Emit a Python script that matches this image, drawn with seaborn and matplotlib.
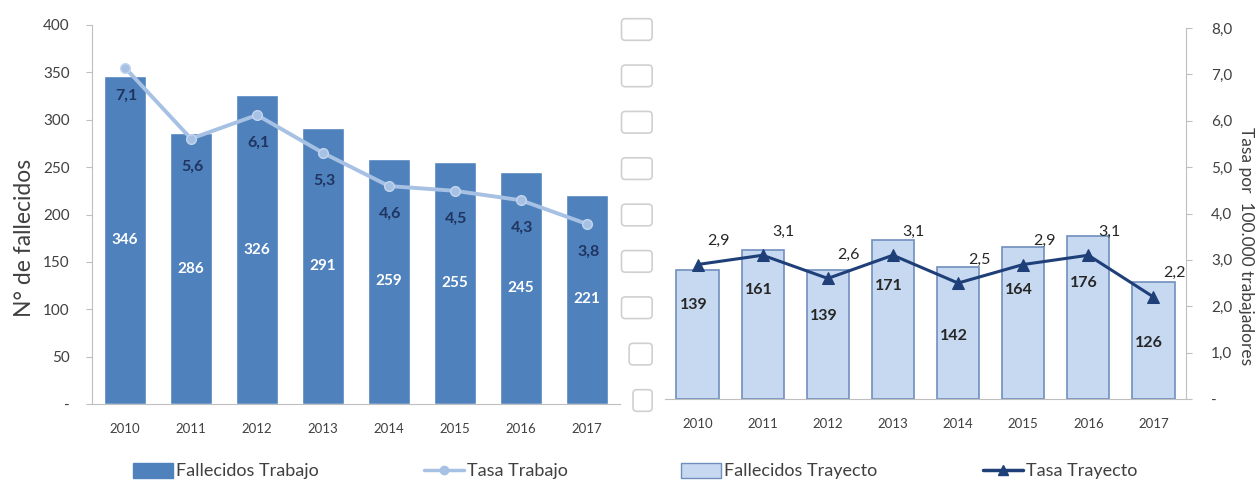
import numpy as np
import matplotlib
matplotlib.use("Agg")
import matplotlib.pyplot as plt
import seaborn as sns
from matplotlib.lines import Line2D
from matplotlib.patches import Patch

# data
years = ["2010", "2011", "2012", "2013", "2014", "2015", "2016", "2017"]
fall_trabajo = [346, 286, 326, 291, 259, 255, 245, 221]
tasa_trabajo = [7.1, 5.6, 6.1, 5.3, 4.6, 4.5, 4.3, 3.8]
fall_trayecto = [139, 161, 139, 171, 142, 164, 176, 126]
tasa_trayecto = [2.9, 3.1, 2.6, 3.1, 2.5, 2.9, 3.1, 2.2]

left_ticks = [0, 50, 100, 150, 200, 250, 300, 350, 400]
left_ticklabels = ["-", "50", "100", "150", "200", "250", "300", "350", "400"]
right_ticks = [0, 1, 2, 3, 4, 5, 6, 7, 8]
right_ticklabels = ["-", "1,0", "2,0", "3,0", "4,0", "5,0", "6,0", "7,0", "8,0"]

# vertical shift (points) of the count labels in the right chart
tray_lbl_dy = [21, 25, 13, 24, -2, 24, 25, -2]

c_dark = "#4f81bd"
c_light = "#a7c1e4"
c_tray = "#c6d9f1"
c_tray_edge = "#6f8fbd"
c_navy = "#1f3f78"
c_grey = "#bfbfbf"
c_text = "#404040"

sns.set_style("white")
plt.rcParams["font.family"] = ["Lato", "DejaVu Sans"]

W, H = 1257, 482
fig = plt.figure(figsize=(W / 100, H / 100), dpi=100)
ax1 = fig.add_axes([92 / W, 1 - 404 / H, 528 / W, 379 / H])
ax3 = fig.add_axes([665 / W, 1 - 399 / H, 521 / W, 371 / H])
xs = np.arange(len(years))

#left chart: trabajo
sns.barplot(x=years, y=fall_trabajo, color=c_dark, width=0.65, saturation=1, ax=ax1)
ax1.set_xlim(-0.5, 7.5)
ax1.set_ylim(0, 400)
ax1.bar_label(ax1.containers[0], label_type="center", color="white",
              fontweight="bold", fontsize=11)
ax1.set_yticks(left_ticks, left_ticklabels)
ax1.set_ylabel("")
ax1.set_xlabel("")

ax2 = ax1.twinx()
sns.lineplot(x=xs, y=tasa_trabajo, ax=ax2, color=c_light, linewidth=2.8,
             marker="o", markersize=7, markeredgecolor="#c3d6ef", markeredgewidth=1)
ax2.set_ylim(0, 8)
ax2.set_axis_off()
for i, v in enumerate(tasa_trabajo):
    ax2.annotate(f"{v:.1f}".replace(".", ","), (i, v), xytext=(1, -20),
                 textcoords="offset points", ha="center", va="center",
                 fontsize=11.5, fontweight="bold", color="#1f3460")

#right chart: trayecto
sns.barplot(x=years, y=fall_trayecto, color=c_tray, width=0.65, saturation=1,
            edgecolor=c_tray_edge, linewidth=1.2, ax=ax3)
ax3.set_xlim(-0.5, 7.5)
ax3.set_ylim(0, 400)
ax3.set_ylabel("")
ax3.set_xlabel("")
for i, (v, dy) in enumerate(zip(fall_trayecto, tray_lbl_dy)):
    ax3.annotate(str(v), (i, v / 2), xytext=(-3, dy), textcoords="offset points",
                 ha="center", va="center", fontsize=11.5, fontweight="bold", color="#262626")

# empty boxes left of the right chart (broken tick labels in the original)
box_txt = ["\u2003", "\u2003\u2005"] + ["\u2003\u2003"] * 7
ax3.set_yticks(left_ticks, box_txt)
for t in ax3.get_yticklabels():
    t.set_fontsize(11)
    t.set_bbox(dict(boxstyle="round,pad=0.25", fc="white", ec="#d0d0d0", lw=1.2))
ax3.tick_params(axis="y", length=0, pad=12)

ax4 = ax3.twinx()
sns.lineplot(x=xs, y=tasa_trayecto, ax=ax4, color=c_navy, linewidth=2.2,
             marker="^", markersize=9, markeredgecolor=c_navy)
ax4.set_ylim(0, 8)
ax4.set_yticks(right_ticks, right_ticklabels)
for i, v in enumerate(tasa_trayecto):
    ax4.annotate(f"{v:.1f}".replace(".", ","), (i, v), xytext=(15, 17),
                 textcoords="offset points", ha="center", va="center",
                 fontsize=11.5, color="#262626")

for ax in [ax1, ax3, ax4]:
    for s in ax.spines.values():
        s.set_visible(False)
    ax.set_xticks(np.arange(-0.5, 8, 1), minor=True)
    ax.tick_params(axis="x", which="major", length=0, pad=14, labelsize=9.5,
                   labelcolor=c_text)
    ax.tick_params(axis="x", which="minor", length=4, color=c_grey)

ax1.spines["left"].set_visible(True)
ax1.spines["bottom"].set_visible(True)
ax1.spines["left"].set_color(c_grey)
ax1.spines["bottom"].set_color(c_grey)
ax1.tick_params(axis="y", length=4, color=c_grey, pad=12, labelsize=11,
                labelcolor=c_text)

ax3.spines["bottom"].set_visible(True)
ax3.spines["bottom"].set_color(c_grey)
ax4.spines["right"].set_visible(True)
ax4.spines["right"].set_color(c_grey)
ax4.tick_params(axis="y", length=4, color=c_grey, pad=14, labelsize=11,
                labelcolor=c_text)

fig.text(25 / W, 1 - 238 / H, "N° de fallecidos", rotation=90, ha="center",
         va="center", fontsize=16.5, color=c_text)
fig.text(1246 / W, 1 - 246 / H, "Tasa por  100.000 trabajadores", rotation=270,
         ha="center", va="center", fontsize=12.5, color=c_text)

#legends
handles = [
    (Patch(fc=c_dark, ec=c_dark), "Fallecidos Trabajo", 133),
    (Line2D([], [], color=c_light, marker="o", markersize=6, linewidth=2.5), "Tasa Trabajo", 424),
    (Patch(fc=c_tray, ec=c_tray_edge), "Fallecidos Trayecto", 681),
    (Line2D([], [], color=c_navy, marker="^", markersize=7, linewidth=2.5), "Tasa Trayecto", 983),
]
for h, lab, x0 in handles:
    leg = fig.legend(handles=[h], labels=[lab], loc="center left",
                     bbox_to_anchor=(x0 / W, 1 - 471 / H), frameon=False,
                     handlelength=2.2, handleheight=0.9, handletextpad=0.2,
                     borderpad=0, borderaxespad=0, fontsize=13)
    for t in leg.get_texts():
        t.set_color(c_text)

fig.savefig("out.png", dpi=100)
